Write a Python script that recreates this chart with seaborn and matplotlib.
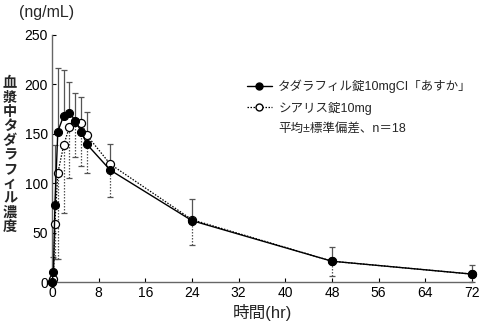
import numpy as np
import pandas as pd
import matplotlib
matplotlib.use("Agg")
import matplotlib.pyplot as plt
import seaborn as sns
from matplotlib.lines import Line2D

# ---- data ----
time_hr = [0, 0.25, 0.5, 1, 2, 3, 4, 5, 6, 10, 24, 48, 72]
test_mean = [0, 10, 78, 152, 168, 171, 163, 152, 139, 113, 62, 21, 8]
test_sd = [0, 15, 60, 64, 46, 31, 28, 35, 33, 26, 22, 14.5, 9]
ref_mean = [0, 3, 59, 110, 138, 157, 162, 161, 148, 119, 63, 21, 8]
ref_sd = [0, 3, 36, 87, 68, 52, 36, 44, 38, 33, 26, 14.5, 8]
test_name = "タダラフィル錠10mgCI「あすか」"
ref_name = "シアリス錠10mg"
note_text = "平均±標準偏差、n＝18"
x_ticks = [0, 8, 16, 24, 32, 40, 48, 56, 64, 72]
y_ticks = [0, 50, 100, 150, 200, 250]

sns.set_theme(style="ticks")
plt.rcParams['font.family'] = ['Liberation Sans', 'Noto Sans CJK JP']

fig = plt.figure(figsize=(4.85, 3.24), dpi=100)
ax = fig.add_axes([0.1072, 0.1296, 0.973 - 0.1072, 0.8935 - 0.1296])

df_test = pd.DataFrame({"t": time_hr, "c": test_mean})
df_ref = pd.DataFrame({"t": time_hr, "c": ref_mean})

zeros = np.zeros(len(time_hr))
# error bars: test +SD (solid), reference -SD (dotted)
eb1 = ax.errorbar(time_hr, test_mean, yerr=[zeros, test_sd], fmt='none',
                  ecolor='#555555', elinewidth=0.9, capsize=2.5, capthick=0.9,
                  zorder=2, clip_on=False)
eb2 = ax.errorbar(time_hr, ref_mean, yerr=[ref_sd, zeros], fmt='none',
                  ecolor='#555555', elinewidth=0.9, capsize=2.5, capthick=0.9,
                  zorder=2, clip_on=False)
for bl in eb2[2]:
    bl.set_linestyle((0, (1.2, 1.2)))

sns.lineplot(data=df_ref, x="t", y="c", ax=ax, color='black', lw=0.9,
             linestyle=(0, (1.2, 1.2)), marker='o', markersize=5.8,
             markerfacecolor='white', markeredgecolor='black', markeredgewidth=0.9,
             zorder=3, clip_on=False)
sns.lineplot(data=df_test, x="t", y="c", ax=ax, color='black', lw=1.0,
             marker='o', markersize=5.8, markerfacecolor='black',
             markeredgecolor='black', zorder=4, clip_on=False)

ax.set_xlim(0, 72)
ax.set_ylim(0, 250)
ax.set_xticks(x_ticks)
ax.set_yticks(y_ticks)
ax.tick_params(direction='in', length=3, width=0.8, labelsize=10, colors='black', pad=3)
for s in ['top', 'right']:
    ax.spines[s].set_visible(False)
for s in ['left', 'bottom']:
    ax.spines[s].set_color('#666666')
    ax.spines[s].set_linewidth(1.0)

ax.set_xlabel("時間(hr)", fontsize=12, labelpad=3)
ax.set_ylabel("")

fig.text(10 / 485, 1 - 155 / 324, "\n".join("血漿中タダラフィル濃度"), ha='center', va='center',
         fontsize=10.2, linespacing=1.03, fontweight='semibold')
fig.text(19 / 485, 1 - 13 / 324, "(ng/mL)", ha='left', va='center', fontsize=11.5)

handles = [
    Line2D([], [], color='black', lw=1.0, marker='o', markersize=5,
           markerfacecolor='black'),
    Line2D([], [], color='black', lw=0.9, linestyle=(0, (1.2, 1.2)), marker='o',
           markersize=5, markerfacecolor='white', markeredgecolor='black'),
    Line2D([], [], color='none', lw=0),
]
ax.legend(handles, [test_name, ref_name, note_text], loc='upper left',
          bbox_to_anchor=(247 / 485, 1 - 80 / 324), bbox_transform=fig.transFigure,
          frameon=False, fontsize=9.0, handlelength=2.0, handletextpad=0.5,
          labelspacing=0.65, borderpad=0, borderaxespad=0)

fig.savefig("out.png", dpi=100)
